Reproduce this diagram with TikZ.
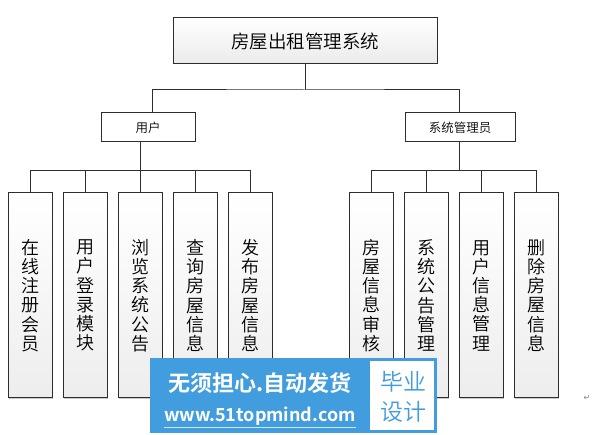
\documentclass[tikz,border=0pt]{standalone}
\usepackage{fontspec}
\setmainfont{Noto Sans CJK SC}[UprightFont=* DemiLight,BoldFont=* Bold]
\newfontfamily\symfont{DejaVu Sans}
\usetikzlibrary{calc,positioning,shadows}
\definecolor{wmblue}{RGB}{66,157,222}
\definecolor{linegray}{RGB}{45,45,45}
\tikzset{rootbox/.style={draw=linegray,line width=1pt,top color=white,bottom color=gray!16,minimum width=264pt,minimum height=46pt,inner sep=0pt,font=\fontsize{18.5pt}{20pt}\selectfont},
  midbox/.style={draw=linegray,line width=1pt,fill=white,minimum height=29pt,inner sep=0pt,font=\fontsize{12.5pt}{14pt}\selectfont},
  leafbox/.style={draw=linegray,line width=1pt,top color=white,bottom color=gray!14,minimum width=44pt,minimum height=205pt,inner sep=0pt,align=center,
    drop shadow={shadow xshift=1pt,shadow yshift=-1.2pt,fill=gray!70,opacity=0.6},font=\fontsize{18pt}{19.2pt}\selectfont},
  link/.style={draw=linegray,line width=1pt},
  wmtext/.style={text=white,inner sep=0pt,font=\bfseries}}

\begin{document}
\begin{tikzpicture}[x=1pt,y=-1pt]
\useasboundingbox (0,0) rectangle (598,435);
\node[rootbox] (root) at (305,41) {房屋出租管理系统};
\node[midbox,minimum width=94pt] (user) at (148,127.5) {用户};
\node[midbox,minimum width=110pt] (admin) at (460,127.5) {系统管理员};
\foreach \n/\x/\t in {u1/30/在\\线\\注\\册\\会\\员,u2/85/用\\户\\登\\录\\模\\块,u3/140/浏\\览\\系\\统\\公\\告,u4/195/查\\询\\房\\屋\\信\\息,u5/250/发\\布\\房\\屋\\信\\息,
  a1/371/房\\屋\\信\\息\\审\\核,a2/426/系\\统\\公\\告\\管\\理,a3/481/用\\户\\信\\息\\管\\理,a4/536/删\\除\\房\\屋\\信\\息}{
  \node[leafbox] (\n) at (\x,295.5) {\t};
}
% connectors
\coordinate (topbus) at (305,90);
\coordinate (lowbus) at (0,171);
\draw[link] (root.south) -- (topbus);
\draw[link] ([xshift=4pt]user.north) |- (topbus) -| ([xshift=-1pt]admin.north);
\draw[link] (user.south -| u3.north) -- (u3.north);
\draw[link] ([xshift=-1pt]admin.south) -- ([xshift=-1pt]admin.south |- lowbus);
\draw[link] (u1.north) -- (u1.north |- lowbus) -- (u5.north |- lowbus) -- (u5.north);
\draw[link] (a1.north) -- (a1.north |- lowbus) -- (a4.north |- lowbus) -- (a4.north);
\foreach \n in {u2,u4,a2,a3}
  \draw[link] (\n.north) -- (\n.north |- lowbus);
% watermark
\fill[wmblue] (150,358) rectangle (437,433);
\fill[white] (370,361) rectangle (434,430);
\node[wmtext,font=\bfseries\fontsize{22pt}{24pt}\selectfont] (wmtop) at (260,383) {无须担心.自动发货};
\node[wmtext,font=\bfseries\fontsize{18pt}{20pt}\selectfont] (wmurl) at (260,416) {www.51topmind.com};
\draw[white!75!wmblue,line width=0.8pt] ([yshift=-2pt]wmurl.south west) -- ([yshift=-2pt]wmurl.south east);
\node[inner sep=0pt,text=wmblue,font=\fontsize{23pt}{24pt}\selectfont] (wmbi) at (403,382) {毕业};
\node[inner sep=0pt,text=wmblue,font=\fontsize{23pt}{24pt}\selectfont] (wmsj) at (403,412) {设计};
\node[inner sep=0pt,text=gray,font=\symfont\fontsize{8pt}{9pt}\selectfont] (ret) at (587,398) {↵};
\end{tikzpicture}
\end{document}
